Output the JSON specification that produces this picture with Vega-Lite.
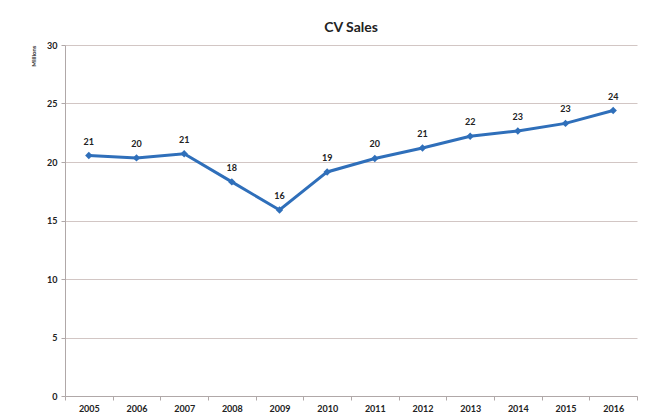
{
  "$schema": "https://vega.github.io/schema/vega-lite/v6.json",
  "width": 572,
  "height": 351,
  "autosize": {"type": "none"},
  "padding": {"left": 65, "top": 45, "right": 11, "bottom": 20},
  "background": "white",
  "title": {
    "text": "CV Sales",
    "font": "Lato",
    "fontSize": 14,
    "fontWeight": "bold",
    "color": "#222222",
    "anchor": "middle",
    "offset": 6
  },
  "config": {
    "view": {"stroke": null},
    "font": "Lato"
  },
  "data": {
    "values": [
      {"year": "2005", "sales": 20.55},
      {"year": "2006", "sales": 20.35},
      {"year": "2007", "sales": 20.7},
      {"year": "2008", "sales": 18.3},
      {"year": "2009", "sales": 15.9},
      {"year": "2010", "sales": 19.15},
      {"year": "2011", "sales": 20.3},
      {"year": "2012", "sales": 21.2},
      {"year": "2013", "sales": 22.2},
      {"year": "2014", "sales": 22.65},
      {"year": "2015", "sales": 23.3},
      {"year": "2016", "sales": 24.4}
    ]
  },
  "encoding": {
    "x": {
      "field": "year",
      "type": "ordinal",
      "scale": {"type": "band", "paddingInner": 0, "paddingOuter": 0},
      "axis": {
        "title": null,
        "labelAngle": 0,
        "labelFont": "Lato",
        "labelFontSize": 9,
        "labelFontWeight": "bold",
        "labelColor": "#222222",
        "tickBand": "extent",
        "tickSize": 4,
        "tickColor": "#b0a8a8",
        "domainColor": "#b0a8a8",
        "labelPadding": 4,
        "grid": false
      }
    },
    "y": {
      "field": "sales",
      "type": "quantitative",
      "scale": {"domain": [0, 30], "nice": false},
      "axis": {
        "title": "Millions",
        "titleFont": "Lato",
        "titleFontSize": 6,
        "titleFontWeight": "bold",
        "titleColor": "#333333",
        "titleAnchor": "end",
        "titlePadding": 10,
        "values": [0, 5, 10, 15, 20, 25, 30],
        "labelFont": "Lato",
        "labelFontSize": 9,
        "labelFontWeight": "bold",
        "labelColor": "#222222",
        "tickSize": 4,
        "tickColor": "#b0a8a8",
        "domainColor": "#b0a8a8",
        "gridColor": "#d2c6c4",
        "gridWidth": 1,
        "labelPadding": 4
      }
    }
  },
  "layer": [
    {
      "mark": {"type": "line", "color": "#2f6fba", "strokeWidth": 3}
    },
    {
      "mark": {"type": "point", "shape": "diamond", "filled": true, "color": "#2f6fba", "size": 55, "opacity": 1}
    },
    {
      "mark": {"type": "text", "dy": -14, "font": "Lato", "fontSize": 9, "fontWeight": "bold", "color": "#222222"},
      "encoding": {
        "text": {"field": "sales", "type": "quantitative", "format": ".0f"}
      }
    }
  ]
}
